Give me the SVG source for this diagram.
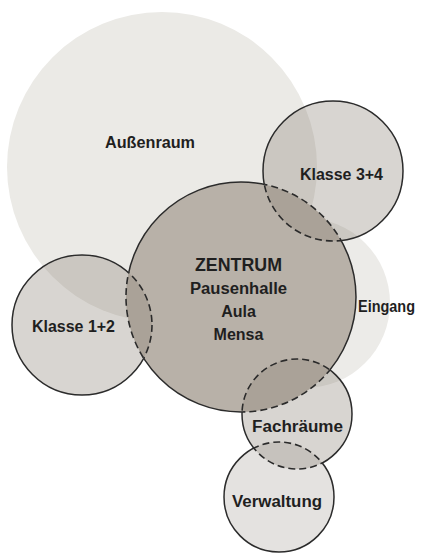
<svg xmlns="http://www.w3.org/2000/svg" width="426" height="553" viewBox="0 0 426 553">
  <style>
    .lbl { font-family: "Liberation Sans", Arial, sans-serif; font-weight: bold; font-size: 16px; fill: #1f1f1f; text-anchor: middle; }
    .big { font-size: 18px; }
    .room { fill: #8f877c; fill-opacity: 0.35; }
    .light { fill: #8f877c; fill-opacity: 0.24; }
    .solid { fill: none; stroke: #2b2b2b; stroke-width: 1.5; }
    .dash { fill: none; stroke: #2b2b2b; stroke-width: 1.6; stroke-dasharray: 7 4; }
  </style>
  <defs>
    <clipPath id="inZ"><circle cx="241" cy="297" r="115"/></clipPath>
    <clipPath id="inF"><circle cx="297" cy="414" r="55"/></clipPath>
    <clipPath id="inZchildren">
      <circle cx="333" cy="171" r="70"/>
      <circle cx="82" cy="325" r="70"/>
      <circle cx="297" cy="414" r="55"/>
    </clipPath>
    <clipPath id="inZV">
      <circle cx="241" cy="297" r="115"/>
      <circle cx="279" cy="497" r="55"/>
    </clipPath>
    <mask id="outZ" maskUnits="userSpaceOnUse" x="0" y="0" width="426" height="553">
      <rect width="426" height="553" fill="#fff"/>
      <circle cx="241" cy="297" r="115" fill="#000"/>
    </mask>
    <mask id="outF" maskUnits="userSpaceOnUse" x="0" y="0" width="426" height="553">
      <rect width="426" height="553" fill="#fff"/>
      <circle cx="297" cy="414" r="55" fill="#000"/>
    </mask>
    <mask id="outZchildren" maskUnits="userSpaceOnUse" x="0" y="0" width="426" height="553">
      <rect width="426" height="553" fill="#fff"/>
      <circle cx="333" cy="171" r="70" fill="#000"/>
      <circle cx="82" cy="325" r="70" fill="#000"/>
      <circle cx="297" cy="414" r="55" fill="#000"/>
    </mask>
    <mask id="outZV" maskUnits="userSpaceOnUse" x="0" y="0" width="426" height="553">
      <rect width="426" height="553" fill="#fff"/>
      <circle cx="241" cy="297" r="115" fill="#000"/>
      <circle cx="279" cy="497" r="55" fill="#000"/>
    </mask>
  </defs>

  <g id="aussenraum">
    <circle cx="162" cy="167" r="155" fill="#ebeae6"/>
    <text class="lbl" x="150" y="148" textLength="90" lengthAdjust="spacingAndGlyphs">Außenraum</text>
  </g>
  <g id="eingang">
    <circle cx="305" cy="303" r="85" fill="#ecebe8"/>
    <text class="lbl" x="386.5" y="312" textLength="57" lengthAdjust="spacingAndGlyphs">Eingang</text>
  </g>
  <g id="zentrum">
    <circle cx="241" cy="297" r="115" fill="#b8b1a8"/>
    <text class="lbl big" x="238.5" y="271" textLength="87" lengthAdjust="spacingAndGlyphs">ZENTRUM</text>
    <text class="lbl" x="238.5" y="294" textLength="97" lengthAdjust="spacingAndGlyphs">Pausenhalle</text>
    <text class="lbl" x="238.5" y="317">Aula</text>
    <text class="lbl" x="238.5" y="340">Mensa</text>
  </g>
  <g id="klasse34">
    <circle class="room" cx="333" cy="171" r="70"/>
    <text class="lbl" x="341.5" y="180" textLength="83" lengthAdjust="spacingAndGlyphs">Klasse 3+4</text>
  </g>
  <g id="klasse12">
    <circle class="room" cx="82" cy="325" r="70"/>
    <text class="lbl" x="73.5" y="332" textLength="83" lengthAdjust="spacingAndGlyphs">Klasse 1+2</text>
  </g>
  <g id="fachraeume">
    <circle class="room" cx="297" cy="414" r="55"/>
    <text class="lbl" x="297.5" y="432" textLength="91" lengthAdjust="spacingAndGlyphs">Fachräume</text>
  </g>
  <g id="verwaltung">
    <circle class="light" cx="279" cy="497" r="55"/>
    <text class="lbl" x="277" y="507" textLength="90" lengthAdjust="spacingAndGlyphs">Verwaltung</text>
  </g>

  <g id="connectors">
    <circle class="solid" cx="241" cy="297" r="115" mask="url(#outZchildren)"/>
    <circle class="dash" cx="241" cy="297" r="115" clip-path="url(#inZchildren)"/>
    <circle class="solid" cx="333" cy="171" r="70" mask="url(#outZ)"/>
    <circle class="dash" cx="333" cy="171" r="70" clip-path="url(#inZ)"/>
    <circle class="solid" cx="82" cy="325" r="70" mask="url(#outZ)"/>
    <circle class="dash" cx="82" cy="325" r="70" clip-path="url(#inZ)"/>
    <circle class="solid" cx="297" cy="414" r="55" mask="url(#outZV)"/>
    <circle class="dash" cx="297" cy="414" r="55" clip-path="url(#inZV)"/>
    <circle class="solid" cx="279" cy="497" r="55" mask="url(#outF)"/>
    <circle class="dash" cx="279" cy="497" r="55" clip-path="url(#inF)"/>
  </g>
</svg>
